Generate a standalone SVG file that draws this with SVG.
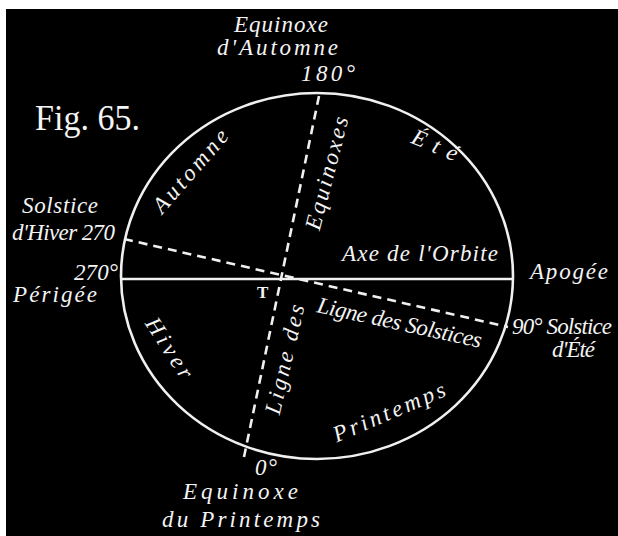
<svg xmlns="http://www.w3.org/2000/svg" width="618" height="536" viewBox="0 0 618 536">
<style>
.lbl{font-family:"Liberation Serif","DejaVu Serif",serif;font-style:italic;fill:#f4f4f4;font-size:23px}
.up{font-family:"Liberation Serif","DejaVu Serif",serif;fill:#f4f4f4}
.ln{stroke:#f0f0f0;stroke-width:2.6;fill:none}
.dash{stroke:#f0f0f0;stroke-width:2.6;fill:none;stroke-dasharray:9 6}
</style>
<rect x="0" y="0" width="618" height="536" fill="#ffffff"/>
<rect x="6" y="9" width="612" height="527" fill="#000000"/>
<g id="orbit">
<ellipse class="ln" cx="317" cy="276" rx="196" ry="183"/>
</g>
<g id="connectors">
<line id="axe" class="ln" x1="121" y1="279" x2="513" y2="279"/>
<line id="equinoxes" class="dash" x1="319" y1="96" x2="244" y2="457"/>
<line id="solstices" class="dash" x1="124" y1="239" x2="508" y2="327"/>
</g>
<g id="fig"><text class="up" x="35" y="130" font-size="36" textLength="105" lengthAdjust="spacingAndGlyphs">Fig. 65.</text></g>
<g id="eq-automne">
<text class="lbl" x="234" y="32" font-size="19" textLength="94" lengthAdjust="spacing">Equinoxe</text>
<text class="lbl" x="217" y="55" font-size="19" textLength="121" lengthAdjust="spacing">d'Automne</text>
<text class="lbl" x="301" y="81" font-size="20" textLength="54" lengthAdjust="spacing">180°</text>
</g>
<g id="solstice-hiver">
<text class="lbl" x="22" y="213" font-size="20" textLength="76" lengthAdjust="spacing">Solstice</text>
<text class="lbl" x="12" y="240" font-size="19" textLength="103" lengthAdjust="spacing">d'Hiver 270</text>
</g>
<g id="perigee">
<text class="lbl" x="74" y="280" font-size="19" textLength="44" lengthAdjust="spacing">270°</text>
<text class="lbl" x="13" y="302" font-size="22" textLength="84" lengthAdjust="spacing">Périgée</text>
</g>
<g id="apogee"><text class="lbl" x="530" y="279" font-size="22" textLength="78" lengthAdjust="spacing">Apogée</text></g>
<g id="solstice-ete">
<text class="lbl" x="512" y="334" font-size="18" textLength="100" lengthAdjust="spacing">90° Solstice</text>
<text class="lbl" x="552" y="357" font-size="18" textLength="43" lengthAdjust="spacing">d'Été</text>
</g>
<g id="eq-printemps">
<text class="lbl" x="255" y="475" font-size="18" textLength="22" lengthAdjust="spacing">0°</text>
<text class="lbl" x="183" y="499" font-size="21" textLength="115" lengthAdjust="spacing">Equinoxe</text>
<text class="lbl" x="162" y="527" textLength="158" lengthAdjust="spacing">du Printemps</text>
</g>
<g id="axe-label"><text class="lbl" x="342" y="261" font-size="21" textLength="156" lengthAdjust="spacing">Axe de l'Orbite</text></g>
<g id="earth"><text class="up" x="257" y="298" font-size="17" font-weight="bold">T</text></g>
<g id="seasons">
<text class="lbl" text-anchor="middle" transform="translate(196,176) rotate(-49)" textLength="103" lengthAdjust="spacing">Automne</text>
<text class="lbl" text-anchor="middle" transform="translate(432,152) rotate(23)" font-size="27" textLength="48" lengthAdjust="spacing">Été</text>
<text class="lbl" text-anchor="middle" transform="translate(163,352) rotate(57)" font-size="25" textLength="68" lengthAdjust="spacing">Hiver</text>
<text class="lbl" text-anchor="middle" transform="translate(392,419) rotate(-23)" font-size="24" textLength="120" lengthAdjust="spacing">Printemps</text>
</g>
<g id="line-labels">
<text class="lbl" text-anchor="middle" transform="translate(334,175) rotate(-75.5)" textLength="116" lengthAdjust="spacing">Equinoxes</text>
<text class="lbl" text-anchor="middle" transform="translate(292,361) rotate(-77)" textLength="112" lengthAdjust="spacing">Ligne des</text>
<text class="lbl" text-anchor="middle" transform="translate(398,330) rotate(12.3)" font-size="21" textLength="168" lengthAdjust="spacing">Ligne des Solstices</text>
</g>
</svg>
